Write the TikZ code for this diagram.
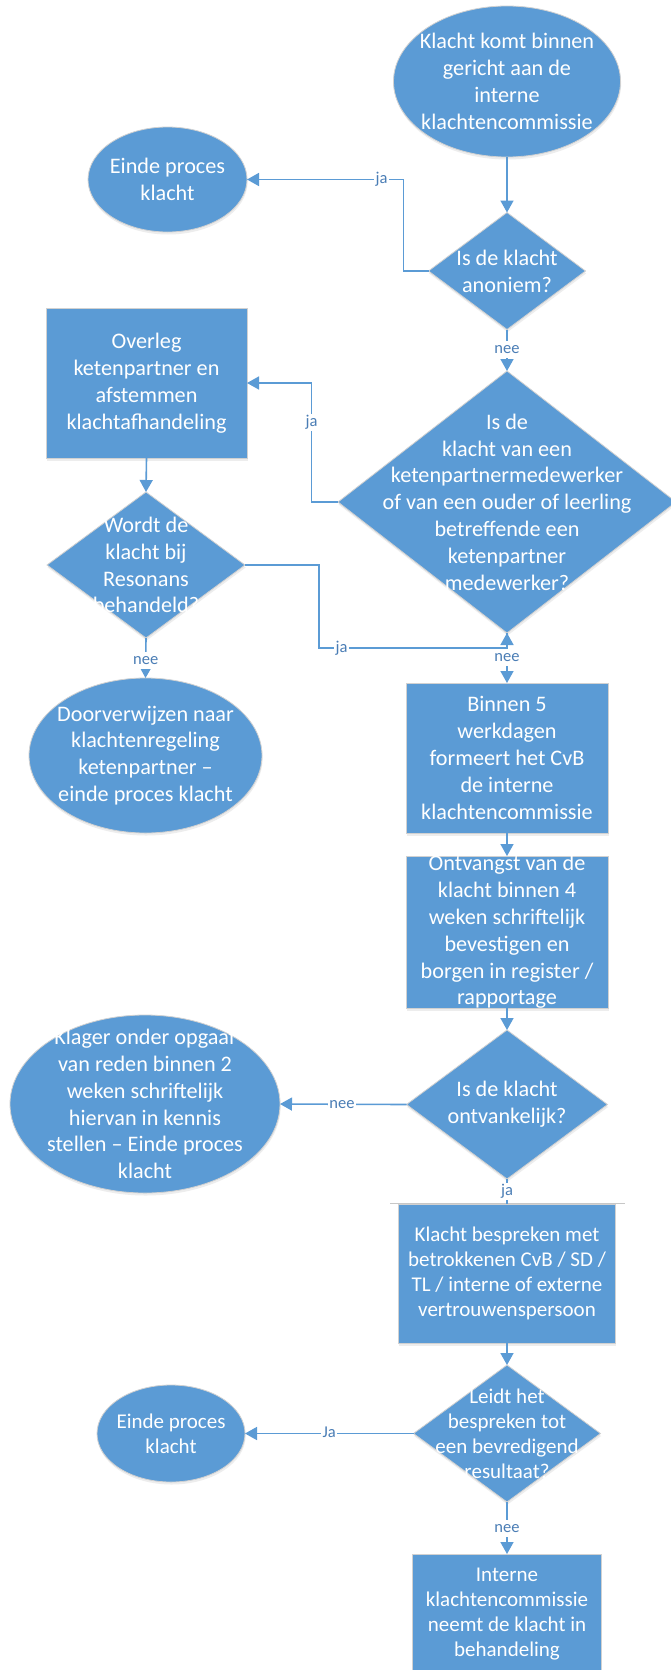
\documentclass[tikz,border=0pt]{standalone}
\usepackage{fontspec}
\setmainfont{Carlito}
\usetikzlibrary{shapes.geometric, arrows.meta, shadows}
\definecolor{fillblue}{HTML}{5B9BD5}
\definecolor{lineblue}{HTML}{5B9BD5}
\definecolor{labblue}{HTML}{4A7DB5}
\begin{document}
\begin{tikzpicture}[x=1pt, y=-1pt,
  shp/.style={fill=fillblue, draw=black!18, line width=0.8pt, inner sep=0pt, outer sep=0pt,
    drop shadow={shadow xshift=0.6pt, shadow yshift=-2.5pt, opacity=0.14}},
  rbox/.style={shp, rectangle},
  oval/.style={shp, ellipse},
  dmd/.style={shp, diamond},
  txtU/.style={text=white, align=center, inner sep=0pt, font=\fontsize{22.2}{26.8}\selectfont},
  txtL/.style={text=white, align=center, inner sep=0pt, font=\fontsize{21}{25}\selectfont},
  txu/.style={label={[txtU]center:{#1}}},
  txl/.style={label={[txtL]center:{#1}}},
  sz/.style 2 args={minimum width=#1pt, minimum height=#2pt},
  conn/.style={draw=lineblue, line width=1.6pt},
  arr/.style={conn, -{Triangle[length=12pt, width=13pt]}},
  lab/.style={fill=white, inner sep=1.5pt, text height=11pt, text depth=3pt, text=labblue, font=\fontsize{16.5}{18}\selectfont}
]
\fill[white] (0,0) rectangle (671,1670);
\useasboundingbox (0,0) rectangle (671,1670);

% shapes
\node[oval, sz={227}{151}, txu={Klacht komt binnen\\gericht aan de\\interne\\klachtencommissie}] (A) at (507,81.5) {};
\node[oval, sz={159}{105}, txu={Einde proces\\klacht}] (B) at (167.5,179.5) {};
\node[dmd, sz={157}{117}, txu={Is de klacht\\anoniem?}] (C) at (507,271) {};
\node[rbox, sz={201}{150}, txu={Overleg\\ketenpartner en\\afstemmen\\klachtafhandeling}] (D) at (146.5,383) {};
\node[dmd, sz={338}{262}, txu={Is de\\klacht van een\\ketenpartnermedewerker\\of van een ouder of leerling\\betreffende een\\ketenpartner\\medewerker?}] (E) at (507,502) {};
\node[dmd, sz={198}{146}, txu={Wordt de\\klacht bij\\Resonans\\behandeld?}] (F) at (146,565) {};
\node[oval, sz={233}{155}, txu={Doorverwijzen naar\\klachtenregeling\\ketenpartner --\\einde proces klacht}] (G) at (145.5,755.5) {};
\node[rbox, sz={202}{150}, txu={Binnen 5\\werkdagen\\formeert het CvB\\de interne\\klachtencommissie}] (H) at (507,758) {};
\node[rbox, sz={202}{152}, txu={Ontvangst van de\\klacht binnen 4\\weken schriftelijk\\bevestigen en\\borgen in register /\\rapportage}] (I) at (507,932) {};
\node[dmd, sz={201}{149}, txu={Is de klacht\\ontvankelijk?}] (J) at (507,1104.5) {};
\node[oval, sz={270}{178}, txu={Klager onder opgaaf\\van reden binnen 2\\weken schriftelijk\\hiervan in kennis\\stellen -- Einde proces\\klacht}] (K) at (145,1104) {};
\node[rbox, sz={217}{139}, txl={Klacht bespreken met\\betrokkenen CvB / SD /\\TL / interne of externe\\vertrouwenspersoon}] (L) at (507,1273.5) {};
\node[dmd, sz={187}{137}, txl={Leidt het\\bespreken tot\\een bevredigend\\resultaat?}] (M) at (507,1433.5) {};
\node[oval, sz={148}{97}, txl={Einde proces\\klacht}] (N) at (171,1433.5) {};
\node[rbox, sz={189}{121}, txl={Interne\\klachtencommissie\\neemt de klacht in\\behandeling}] (O) at (507,1614.5) {};

% thin line above L
\draw[black!22, line width=1pt] (390,1203) -- (625,1203);

% connectors
\draw[arr] (A.south) -- (C.north);
\draw[arr] (C.west) -- ++(-25,0) |- node[lab, pos=0.57] (l1) {ja} (B.east);
\draw[arr] (C.south) -- node[lab, pos=0.47] (l2) {nee} (E.north);
\draw[arr] (E.west) -- ++(-26.5,0) |- node[lab, pos=0.335] (l3) {ja} (D.east);
\draw[arr] (D.south) -- (F.north);
\draw[arr] (F.east) -- ++(74,0) -- ++(0,83) -- node[lab, pos=0.12] (l4) {ja} ++(188,0) -- (E.south);
\draw[arr] (E.south) -- node[lab, pos=0.48] (l5) {nee} (H.north);
\draw[arr] (F.south) -- node[lab, pos=0.57] (l6) {nee} (G.north);
\draw[arr] (H.south) -- (I.north);
\draw[arr] (I.south) -- (J.north);
\draw[arr] (J.west) -- node[lab, pos=0.51] (l7) {nee} (K.east);
\draw[conn] (J.south) -- node[lab, pos=0.5] (l8) {ja} (L.north);
\draw[arr] (L.south) -- (M.north);
\draw[arr] (M.west) -- node[lab, pos=0.5] (l9) {Ja} (N.east);
\draw[arr] (M.south) -- node[lab, pos=0.5] (l10) {nee} (O.north);
\end{tikzpicture}
\end{document}
